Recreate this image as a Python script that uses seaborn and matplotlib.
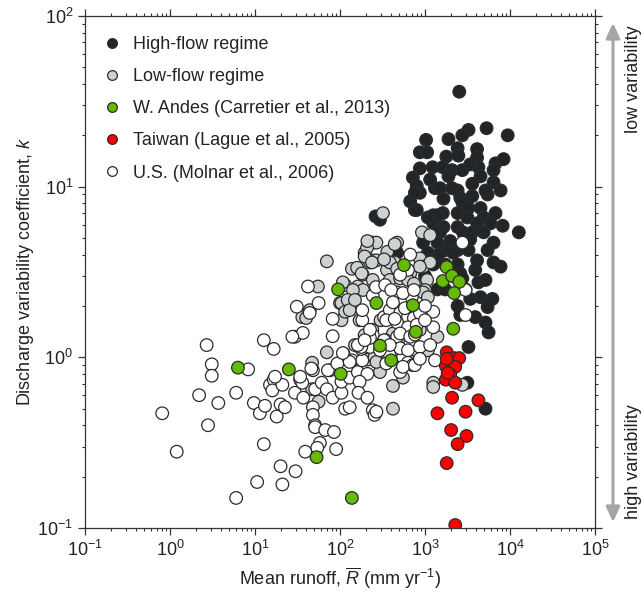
import numpy as np
import pandas as pd
import matplotlib
matplotlib.use("Agg")
import matplotlib.pyplot as plt
import seaborn as sns
from matplotlib.lines import Line2D
from matplotlib.patches import FancyArrowPatch, ArrowStyle

# ---------------- data (mean runoff mm/yr, discharge variability k) ----------------
high_runoff = [2530, 5300, 9400, 3250, 2750, 1030, 1890, 2420, 4100, 870, 1060, 1780, 2470, 4100,
               6750, 8400, 870, 1230, 1620, 2080, 2750, 4250, 6400, 720, 1890, 4500, 6400, 800,
               1310, 1500, 2420, 3600, 870, 2600, 3600, 5450, 670, 760, 2750, 3250, 4500, 2420,
               1250, 1620, 3150, 4900, 6750, 1250, 1650, 2420, 4100, 5900, 8200, 12700, 2800,
               3600, 4900, 1500, 1980, 2420, 3250, 6400, 1730, 2150, 4100, 6400, 7750, 2420, 2600,
               2750, 4250, 5150, 4500, 6200, 2420, 5450, 2600, 3900, 5150, 5600, 3250, 3150, 5150,
               262, 295, 470, 1400, 1080, 1310, 1400, 1440, 1250, 950, 1080, 1150, 1000, 1400, 800,
               760, 1730, 3400, 3000, 3400, 1650, 2080, 1150, 3400, 5150, 7750, 1730, 5450, 3900]
high_k = [36, 22, 20, 21.5, 20, 18.8, 19, 16.8, 16.6, 15.9, 15.9, 15, 15.2, 14.8,
          13.7, 14.5, 12.8, 13, 13, 12.5, 12.5, 13, 12.5, 11.3, 11.5, 11.5, 10.6, 10.1,
          9.8, 9.8, 9.5, 10.4, 9.2, 8.6, 8.8, 9.0, 8.2, 7.3, 8.1, 7.5, 7.5, 7.0,
          6.8, 7.0, 6.6, 6.6, 7.0, 6.1, 5.8, 5.8, 6.1, 6.1, 5.9, 5.4, 5.4,
          5.4, 5.4, 5.4, 4.8, 4.25, 4.25, 4.7, 4.25, 4.1, 3.7, 3.6, 3.4, 3.5, 3.1,
          2.9, 2.75, 2.84, 2.25, 2.2, 2.0, 1.97, 1.77, 1.72, 1.6, 1.4, 1.15, 0.71, 0.50,
          6.7, 6.4, 4.1, 6.8, 6.6, 5.4, 4.7, 4.0, 3.5, 4.7, 4.1, 3.7, 3.0, 2.5, 7.3,
          9.2, 2.5, 4.9, 2.5, 2.2, 8.5, 9.8, 11, 13.5, 9.5, 9.5, 3.5, 4.25, 3.25]

low_runoff = [320, 243, 268, 195, 225, 70, 138, 159, 185, 243, 115, 162, 55, 100, 123, 36, 104,
              70, 47, 282, 295, 920, 1150, 470, 360, 870, 950, 1150, 208, 238, 268, 440, 187,
              357, 385, 470, 385, 510, 670, 870, 1060, 1000, 630, 740, 950, 1080, 104, 44, 40,
              300, 240, 420, 210, 1080, 700, 1400, 47, 56, 255, 268, 420, 420, 550, 1250, 1250,
              2750, 210, 195, 238, 330, 180, 108, 142, 123, 115, 130, 440, 170, 195, 510, 580,
              760, 150, 340, 870, 150, 540, 700]
low_k = [7.0, 4.7, 4.7, 4.1, 3.6, 3.65, 3.3, 3.35, 3.05, 2.84, 2.65, 2.6, 2.6, 2.08, 1.95, 1.72, 1.65,
         1.07, 0.93, 0.93, 0.82, 5.4, 5.2, 4.7, 4.15, 3.8, 3.4, 3.6, 4.4, 3.7, 3.7, 3.6, 2.48,
         3.25, 3.6, 3.3, 2.84, 2.9, 3.1, 3.4, 2.84, 2.48, 2.84, 2.7, 2.4, 2.25, 2.08, 1.89, 1.7,
         1.65, 1.45, 1.38, 0.97, 1.1, 0.94, 1.32, 0.65, 0.55, 1.0, 0.94, 0.68, 0.50, 0.76, 0.71, 0.67,
         0.69, 4.8, 3.9, 3.6, 3.75, 3.1, 2.75, 2.48, 2.17, 1.85, 1.89, 4.6, 1.65, 1.35, 1.26, 1.55,
         1.18, 1.18, 1.26, 1.45, 2.17, 2.3, 2.0]

us_runoff = [0.81, 1.2, 2.7, 3.1, 3.1, 2.2, 3.7, 2.8, 6.0, 8.3, 12.7, 12.7, 16.6, 29.5, 36.5, 82,
             9.7, 11.4, 13.1, 18, 20, 22.5, 15, 16.6, 16, 21, 29.5, 34, 36, 37, 48, 48, 51, 51,
             67, 85, 58, 54, 39, 90, 20, 30, 10.6, 21, 6, 48, 51, 61, 70, 82, 76, 104, 115, 130,
             104, 130, 138, 110, 162, 210, 170, 165, 210, 243, 255, 268, 183, 178, 243, 225, 330,
             385, 550, 630, 510, 720, 470, 670, 42, 31, 44, 56, 82, 183, 183, 243, 330, 27.5,
             178, 225, 46, 72, 17.2, 34, 93, 130, 350, 550, 760, 1310, 265, 340, 470, 550, 700,
             385, 510, 630, 740, 870, 1250, 350, 470, 630, 800, 510, 670, 225, 510, 630, 870,
             1250, 3000, 3000, 2750, 670, 630, 510, 400, 550, 740, 108, 162, 195, 420, 440, 580,
             760, 1000, 385, 870, 295, 1000, 1150]
us_k = [0.47, 0.28, 1.18, 0.91, 0.78, 0.6, 0.54, 0.4, 0.62, 0.85, 0.31, 1.26, 1.12, 1.32, 1.39, 1.33,
        0.54, 0.47, 0.52, 0.45, 0.53, 0.51, 0.69, 0.74, 0.64, 0.69, 0.62, 0.74, 0.71, 0.58, 0.51, 0.46,
        0.40, 0.39, 0.375, 0.365, 0.315, 0.295, 0.28, 0.29, 0.23, 0.215, 0.186, 0.18, 0.15, 0.84,
        0.65, 0.71, 0.65, 0.58, 0.84, 0.62, 0.5, 0.51, 0.72, 0.76, 0.96, 1.05, 0.82, 0.8, 0.72,
        0.62, 0.58, 0.49, 0.46, 0.48, 0.96, 1.12, 1.35, 1.15, 1.26, 1.03, 1.0, 0.93, 0.82, 0.9,
        1.32, 1.21, 2.6, 1.98, 1.82, 2.08, 1.68, 1.65, 1.89, 2.3, 1.72, 1.32, 1.15, 1.3, 0.86,
        0.84, 0.77, 0.77, 0.92, 0.94, 0.92, 0.88, 0.9, 0.96, 2.58, 2.65, 2.4, 2.1, 2.25, 1.89,
        1.82, 1.72, 1.7, 1.82, 1.85, 1.65, 1.6, 1.5, 1.55, 1.38, 1.32, 1.45, 1.13, 1.1, 1.15,
        1.5, 1.77, 2.48, 4.7, 4.0, 3.25, 3.05, 2.48, 2.38, 2.48, 1.06, 1.18, 1.26, 2.1, 1.68,
        1.94, 1.36, 1.65, 1.18, 0.98, 1.1, 2.0, 1.18]

andes_runoff = [6.3, 25, 95, 102, 138, 53, 268, 295, 400, 566, 720, 780, 1620, 1800, 2080, 2530,
                2200, 2150]
andes_k = [0.87, 0.85, 2.5, 0.8, 0.15, 0.26, 2.08, 1.17, 0.96, 3.47, 2.02, 1.41, 2.8, 3.38, 3.0,
           2.77, 2.38, 1.47]

taiwan_runoff = [1800, 2200, 2530, 1760, 2270, 1980, 1760, 2270, 2080, 4250, 1400, 3000, 2030,
                 3080, 2420, 1800, 2270, 1800, 1850]
taiwan_k = [1.07, 0.99, 0.99, 0.89, 0.88, 0.79, 0.74, 0.71, 0.58, 0.56, 0.47, 0.48, 0.375,
            0.346, 0.31, 0.24, 0.104, 0.98, 0.81]

groups = ["High-flow regime", "Low-flow regime", "W. Andes (Carretier et al., 2013)",
          "Taiwan (Lague et al., 2005)", "U.S. (Molnar et al., 2006)"]
colors = ["#222528", "#cdd1d2", "#66bb00", "#ff0000", "#ffffff"]

# draw order: high-flow, low-flow, US, Andes, Taiwan
df = pd.concat([
    pd.DataFrame({"runoff": high_runoff, "k": high_k, "group": groups[0]}),
    pd.DataFrame({"runoff": low_runoff, "k": low_k, "group": groups[1]}),
    pd.DataFrame({"runoff": us_runoff, "k": us_k, "group": groups[4]}),
    pd.DataFrame({"runoff": andes_runoff, "k": andes_k, "group": groups[2]}),
    pd.DataFrame({"runoff": taiwan_runoff, "k": taiwan_k, "group": groups[3]}),
], ignore_index=True)

# ---------------- style ----------------
sns.set_style("ticks")
plt.rcParams["font.family"] = ["Liberation Sans", "DejaVu Sans"]
plt.rcParams["mathtext.fontset"] = "custom"
plt.rcParams["mathtext.rm"] = "Liberation Sans"
plt.rcParams["mathtext.it"] = "Liberation Sans:style=italic"
plt.rcParams["mathtext.default"] = "regular"
plt.rcParams["axes.unicode_minus"] = False
FS = 13
TXT = "#222222"

fig = plt.figure(figsize=(6.42, 5.92), dpi=100)
ax = fig.add_axes([85 / 642, 1 - 528 / 592, 510 / 642, 512 / 592])

palette = dict(zip(groups, colors))
sns.scatterplot(data=df, x="runoff", y="k", hue="group", palette=palette, s=82,
                edgecolor="#2b2b2b", linewidth=0.9, legend=False, ax=ax, zorder=3)

ax.set_xscale("log")
ax.set_yscale("log")
ax.set_xlim(0.1, 1e5)
ax.set_ylim(0.1, 100)
ax.set_xlabel(r"Mean runoff, $\mathit{\overline{R}}$ (mm yr$^{-1}$)", fontsize=FS, color=TXT,
              labelpad=4)
ax.set_ylabel(r"Discharge variability coefficient, $\mathit{k}$", fontsize=FS, color=TXT,
              labelpad=1)

for sp in ax.spines.values():
    sp.set_visible(True)
    sp.set_linewidth(0.9)
    sp.set_color("#333333")
ax.tick_params(which="both", direction="out", top=True, right=True, colors="#333333",
               labelcolor=TXT, labelsize=FS)
ax.tick_params(which="major", length=5, width=0.9)
ax.tick_params(which="minor", length=2.5, width=0.8)

# legend
handles = [Line2D([0], [0], marker="o", linestyle="", markersize=7, markerfacecolor=c,
                  markeredgecolor="#2b2b2b", markeredgewidth=0.9) for c in colors]
leg = ax.legend(handles, groups, loc="upper left", bbox_to_anchor=(0, 1), frameon=False,
                fontsize=FS, handlelength=0.8, handletextpad=0.75, labelspacing=0.84,
                borderaxespad=0.5, borderpad=0.6)
for t in leg.get_texts():
    t.set_color(TXT)

# variability arrow on the right
arr = FancyArrowPatch((613 / 642, 1 - 522 / 592), (613 / 642, 1 - 23 / 592),
                      transform=fig.transFigure,
                      arrowstyle=ArrowStyle("<|-|>", head_length=0.9, head_width=0.42),
                      mutation_scale=10, lw=2.2, color="#a5a5a5", shrinkA=0, shrinkB=0)
fig.patches.append(arr)
fig.text(633 / 642, 1 - 25 / 592, "low variability", rotation=90, ha="center", va="top",
         fontsize=FS, color=TXT)
fig.text(633 / 642, 1 - 519 / 592, "high variability", rotation=90, ha="center", va="bottom",
         fontsize=FS, color=TXT)

fig.savefig("out.png", dpi=100)
